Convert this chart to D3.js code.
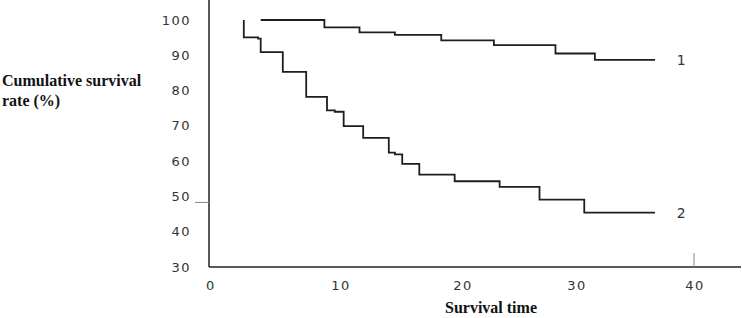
<!DOCTYPE html>
<html>
<head>
<meta charset="utf-8">
<script src="https://cdn.jsdelivr.net/npm/d3@7"></script>
<style>
    body { margin: 0; background: #fff; }
    svg { display: block; }
    .tickLabel { font-family: "DejaVu Sans", sans-serif; font-size: 13px; fill: #333; letter-spacing: 1.5px; }
    .title { font-family: "Liberation Serif", serif; font-size: 16px; font-weight: bold; fill: #111; }
</style>
</head>
<body>
<div id="chart"></div>
<script>
// tick labels
let xTicks = [0, 10, 20, 30, 40];
let yTicks = [100, 90, 80, 70, 60, 50, 40, 30];

// group 1: [time, cumulative survival %]
let group1 = [
    [3.9, 100], [8.8, 97.9], [11.6, 96.5], [14.5, 95.8], [18.3, 94.2],
    [22.8, 92.9], [28.2, 90.5], [31.6, 88.7], [36.7, 88.7]
];
// group 2
let group2 = [
    [2.6, 100], [2.6, 95.1], [3.7, 94.7], [3.9, 90.9], [5.6, 85.3],
    [7.4, 78.2], [9.0, 74.4], [9.6, 74.0], [10.3, 69.9], [11.9, 66.6],
    [14.0, 62.4], [14.5, 61.9], [15.1, 59.2], [16.5, 56.2], [19.4, 54.3],
    [23.3, 52.7], [26.8, 49.1], [30.7, 45.4], [36.7, 45.4]
];
let curveNames = ['1', '2'];

let width = 742, height = 318;
let svg = d3.select('#chart').append('svg')
    .attr('width', width)
    .attr('height', height);

// the scanned figure has uneven tick spacing, so x is piecewise linear
let xScale = d3.scaleLinear()
    .domain(xTicks)
    .range([210, 340, 462, 576, 694]);
let yScale = d3.scaleLinear()
    .domain([30, 100])
    .range([267, 20]);

// axes
svg.append('line')
    .attr('x1', 209).attr('x2', 209)
    .attr('y1', 0).attr('y2', yScale(30))
    .attr('stroke', '#222').attr('stroke-width', 1.5);
svg.append('line')
    .attr('x1', 209).attr('x2', 741)
    .attr('y1', yScale(30)).attr('y2', yScale(30))
    .attr('stroke', '#222').attr('stroke-width', 1.5);
// the only visible tick marks
svg.append('line')
    .attr('x1', 195).attr('x2', 209)
    .attr('y1', yScale(50) + 6).attr('y2', yScale(50) + 6)
    .attr('stroke', '#888').attr('stroke-width', 1);
svg.append('line')
    .attr('x1', xScale(40)).attr('x2', xScale(40))
    .attr('y1', yScale(30) - 14).attr('y2', yScale(30))
    .attr('stroke', '#888').attr('stroke-width', 1);

// tick labels
svg.selectAll('text.yTick')
    .data(yTicks)
    .enter()
    .append('text')
    .attr('class', 'tickLabel yTick')
    .attr('x', 191)
    .attr('y', d => yScale(d))
    .attr('dy', '0.35em')
    .attr('text-anchor', 'end')
    .text(d => d);
svg.selectAll('text.xTick')
    .data(xTicks)
    .enter()
    .append('text')
    .attr('class', 'tickLabel xTick')
    .attr('x', d => xScale(d) + 1)
    .attr('y', 285)
    .attr('dy', '0.35em')
    .attr('text-anchor', 'middle')
    .text(d => d);

// axis titles
svg.append('text')
    .attr('class', 'title')
    .attr('x', 2).attr('y', 86)
    .text('Cumulative survival');
svg.append('text')
    .attr('class', 'title')
    .attr('x', 2).attr('y', 106)
    .text('rate (%)');
svg.append('text')
    .attr('class', 'title')
    .attr('x', 491).attr('y', 313)
    .attr('text-anchor', 'middle')
    .text('Survival time');

// survival step curves
let line = d3.line()
    .x(d => xScale(d[0]))
    .y(d => yScale(d[1]))
    .curve(d3.curveStepAfter);
let groups = [group1, group2];
svg.selectAll('path.km')
    .data(groups)
    .enter()
    .append('path')
    .attr('class', 'km')
    .attr('d', line)
    .attr('fill', 'none')
    .attr('stroke', '#1e1e1e')
    .attr('stroke-width', 1.8);

// curve labels at the line ends
svg.selectAll('text.curveName')
    .data(groups)
    .enter()
    .append('text')
    .attr('class', 'tickLabel curveName')
    .attr('x', 682)
    .attr('y', d => yScale(d[d.length - 1][1]))
    .attr('dy', '0.35em')
    .attr('text-anchor', 'middle')
    .style('font-size', '14px')
    .text((d, i) => curveNames[i]);
</script>
</body>
</html>
